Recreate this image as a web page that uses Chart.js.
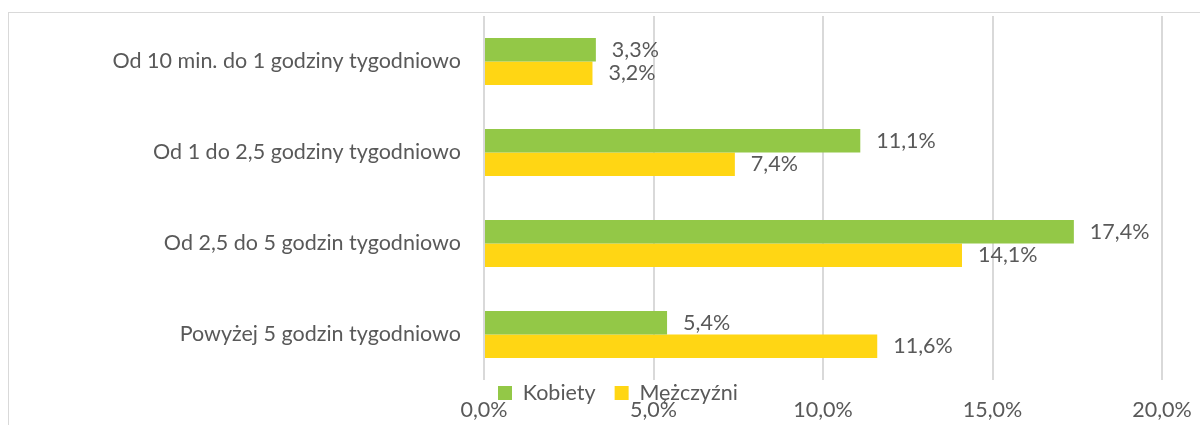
<!DOCTYPE html>
<html>
<head>
<meta charset="utf-8">
<script src="https://cdn.jsdelivr.net/npm/chart.js@4/dist/chart.umd.min.js"></script>
<style>
  html, body { margin: 0; padding: 0; background: #ffffff; }
  #wrap { position: relative; width: 1200px; height: 425px; overflow: hidden; }
  #frame { position: absolute; left: 8px; top: 12px; width: 1300px; height: 500px;
           border-top: 1px solid #d9d9d9; border-left: 1px solid #d9d9d9; box-sizing: border-box; }
  #c { position: absolute; left: 0; top: 0; }
</style>
</head>
<body>
<div id="wrap">
  <div id="frame"></div>
  <canvas id="c" width="1200" height="425"></canvas>
</div>
<script>
const categories = [
  'Od 10 min. do 1 godziny tygodniowo',
  'Od 1 do 2,5 godziny tygodniowo',
  'Od 2,5 do 5 godzin tygodniowo',
  'Powyżej 5 godzin tygodniowo'
];
const seriesNames = ['Kobiety', 'Mężczyźni'];
const kobiety = [3.3, 11.1, 17.4, 5.4];
const mezczyzni = [3.2, 7.4, 14.1, 11.6];
const xTicks = [0, 5, 10, 15, 20];

const FONT = 'Lato, "Open Sans", sans-serif';
const FS = 21.5;
const TEXT = '#595959';
const fmt = v => Number(v).toFixed(1).replace('.', ',') + '%';

const valueLabels = {
  id: 'valueLabels',
  afterDatasetsDraw(chart) {
    const ctx = chart.ctx;
    ctx.save();
    ctx.font = FS + 'px ' + FONT;
    ctx.fillStyle = TEXT;
    ctx.textAlign = 'left';
    ctx.textBaseline = 'middle';
    chart.data.datasets.forEach((ds, i) => {
      const meta = chart.getDatasetMeta(i);
      meta.data.forEach((el, j) => {
        ctx.fillText(fmt(ds.data[j]), el.x + 16, el.y);
      });
    });
    ctx.restore();
  }
};

const legendPlacer = {
  id: 'legendPlacer',
  beforeLayout(chart) {
    const lg = chart.legend;
    if (lg && !lg._wrapped) {
      const orig = lg.fit.bind(lg);
      lg.fit = function () { orig(); this._realH = this.height; this.height = 0; };
      lg._wrapped = true;
    }
  },
  afterLayout(chart) {
    const lg = chart.legend;
    if (!lg) return;
    const pad = lg.options.labels.padding;
    lg.top = 393 - pad - FS / 2;
    lg.bottom = 425;
    lg.height = lg.bottom - lg.top;
    lg.left = 498 - pad;
    lg.right = 1200;
    lg.width = lg.right - lg.left;
  }
};

new Chart(document.getElementById('c'), {
  type: 'bar',
  data: {
    labels: categories,
    datasets: [
      { label: seriesNames[0], data: kobiety, backgroundColor: '#93C847', borderWidth: 0,
        categoryPercentage: 0.516, barPercentage: 1 },
      { label: seriesNames[1], data: mezczyzni, backgroundColor: '#FFD614', borderWidth: 0,
        categoryPercentage: 0.516, barPercentage: 1 }
    ]
  },
  options: {
    indexAxis: 'y',
    responsive: false,
    animation: false,
    devicePixelRatio: 1,
    layout: { padding: { left: 0, right: 38, top: 16, bottom: 0 } },
    plugins: {
      legend: {
        position: 'bottom',
        align: 'start',
        labels: {
          boxWidth: 14, boxHeight: 14, padding: 19,
          color: TEXT, font: { family: FONT, size: FS }
        }
      },
      tooltip: { enabled: false }
    },
    scales: {
      x: {
        min: 0, max: 20,
        afterBuildTicks(scale) { scale.ticks = xTicks.map(v => ({ value: v })); },
        afterFit(scale) { scale.height = 45; scale.paddingLeft = 0; scale.paddingRight = 0; },
        grid: { color: '#d9d9d9', lineWidth: 2, drawTicks: false },
        border: { display: false },
        ticks: { color: TEXT, font: { family: FONT, size: FS }, padding: 17,
                 callback: v => fmt(v), maxRotation: 0 }
      },
      y: {
        afterFit(scale) { scale.width = 484; scale.paddingTop = 0; scale.paddingBottom = 0; },
        grid: { display: false, drawTicks: false },
        border: { display: false },
        ticks: { color: TEXT, font: { family: FONT, size: FS }, padding: 23 }
      }
    }
  },
  plugins: [valueLabels, legendPlacer]
});
</script>
</body>
</html>
